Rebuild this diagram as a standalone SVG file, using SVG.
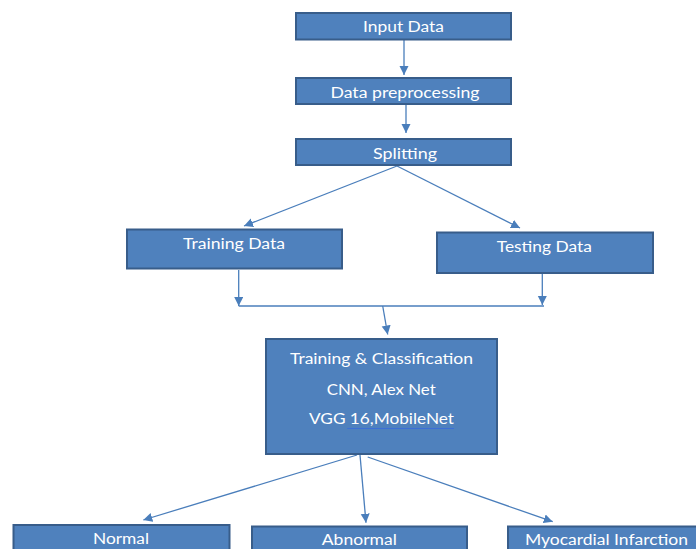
<svg xmlns="http://www.w3.org/2000/svg" width="696" height="549" viewBox="0 0 696 549">
<defs>
<style>
.box{fill:#4F81BD;stroke:#385D8A;stroke-width:2}
.lbl{font-family:Lato,"Liberation Sans",sans-serif;font-size:14.5px;fill:#FFFFFF;text-anchor:middle}
.con{stroke:#4A7EBB;stroke-width:1.3;fill:none}
.arr{stroke:#4A7EBB;stroke-width:1.3;fill:none;marker-end:url(#ah)}
</style>
<marker id="ah" markerUnits="userSpaceOnUse" markerWidth="10" markerHeight="10" refX="9" refY="4.5" orient="auto">
<path d="M0,0 L9,4.5 L0,9 z" fill="#4A7EBB"/>
</marker>
</defs>
<rect width="696" height="549" fill="#FFFFFF"/>
<g id="connectors">
<line class="arr" x1="404" y1="40" x2="404" y2="75"/>
<line class="arr" x1="406" y1="105" x2="406" y2="133"/>
<line class="arr" x1="397" y1="166" x2="244" y2="226"/>
<line class="arr" x1="397" y1="166" x2="520" y2="228"/>
<line class="arr" x1="238.7" y1="270" x2="238.7" y2="306"/>
<line class="arr" x1="542.3" y1="274" x2="542.3" y2="305"/>
<line class="con" x1="238.7" y1="306" x2="544" y2="306"/>
<line class="arr" x1="382.7" y1="306" x2="387.7" y2="334.5"/>
<line class="arr" x1="357" y1="455" x2="143.3" y2="520"/>
<line class="arr" x1="360" y1="455" x2="366" y2="522.7"/>
<line class="arr" x1="367.7" y1="457" x2="552.7" y2="521.7"/>
</g>
<g id="input-data">
<rect class="box" x="296" y="13" width="215" height="26.5"/>
<text class="lbl" x="403.5" y="32" textLength="81" lengthAdjust="spacingAndGlyphs">Input Data</text>
</g>
<g id="data-preprocessing">
<rect class="box" x="296" y="78" width="215" height="26"/>
<text class="lbl" x="405" y="98" textLength="149" lengthAdjust="spacingAndGlyphs">Data preprocessing</text>
</g>
<g id="splitting">
<rect class="box" x="296" y="139" width="215" height="26"/>
<text class="lbl" x="405" y="159" textLength="64" lengthAdjust="spacingAndGlyphs">Splitting</text>
</g>
<g id="training-data">
<rect class="box" x="127" y="229.5" width="215" height="39"/>
<text class="lbl" x="234" y="249" textLength="102" lengthAdjust="spacingAndGlyphs">Training Data</text>
</g>
<g id="testing-data">
<rect class="box" x="437" y="232.5" width="216" height="40.5"/>
<text class="lbl" x="544.3" y="252" textLength="95" lengthAdjust="spacingAndGlyphs">Testing Data</text>
</g>
<g id="training-classification">
<rect class="box" x="266" y="339" width="231" height="115"/>
<text class="lbl" x="381.5" y="364.3" textLength="183" lengthAdjust="spacingAndGlyphs">Training &amp; Classification</text>
<text class="lbl" x="381.2" y="395" textLength="109" lengthAdjust="spacingAndGlyphs">CNN, Alex Net</text>
<text class="lbl" x="381.5" y="424.3" textLength="145" lengthAdjust="spacingAndGlyphs">VGG 16,MobileNet</text>
<line x1="347.3" y1="428.5" x2="454" y2="428.5" stroke="#3C6FD6" stroke-width="1.2"/>
</g>
<g id="normal">
<rect class="box" x="13.5" y="525" width="216" height="30"/>
<text class="lbl" x="121" y="544" textLength="56" lengthAdjust="spacingAndGlyphs">Normal</text>
</g>
<g id="abnormal">
<rect class="box" x="252" y="526.5" width="215" height="30"/>
<text class="lbl" x="359.3" y="545" textLength="75" lengthAdjust="spacingAndGlyphs">Abnormal</text>
</g>
<g id="myocardial-infarction">
<rect class="box" x="508" y="526.5" width="200" height="30"/>
<text class="lbl" x="606.5" y="545" textLength="163" lengthAdjust="spacingAndGlyphs">Myocardial Infarction</text>
</g>
</svg>
